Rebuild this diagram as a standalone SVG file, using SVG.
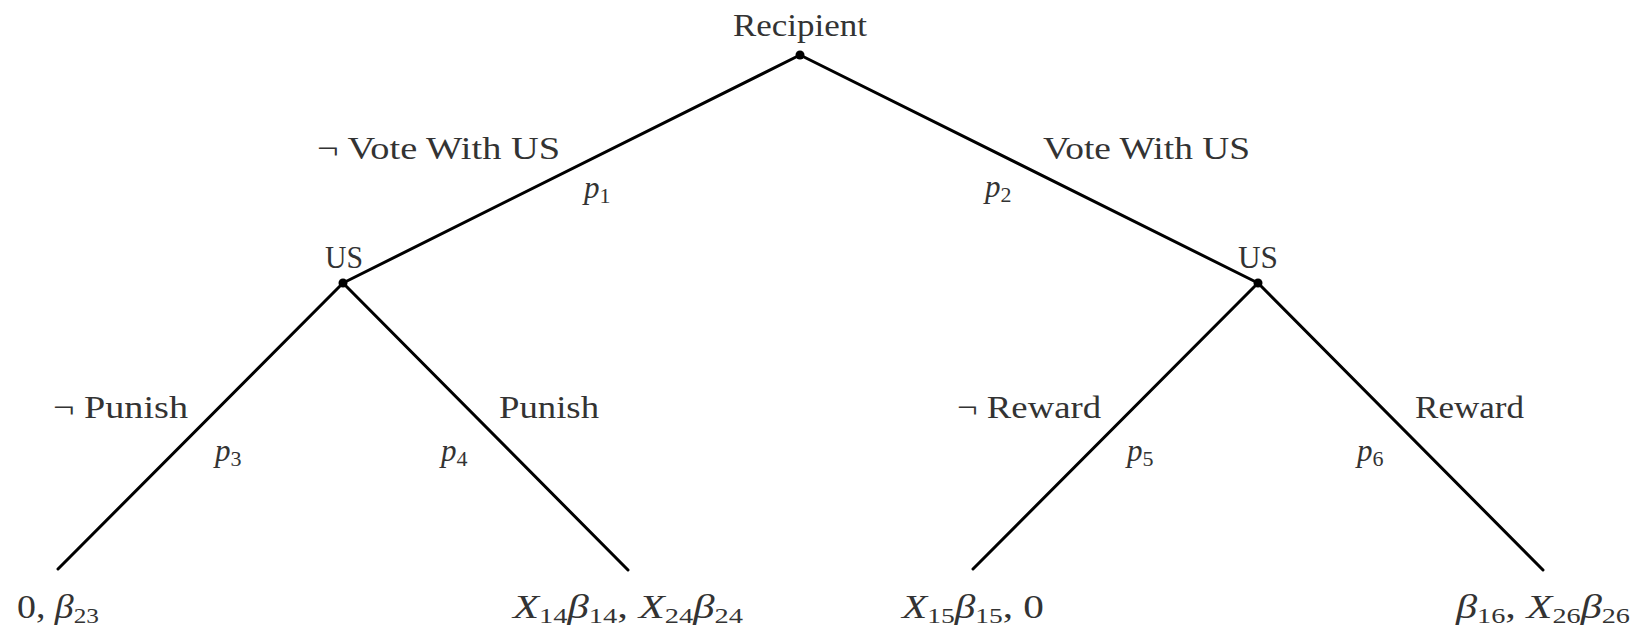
<svg xmlns="http://www.w3.org/2000/svg" width="1644" height="631" viewBox="0 0 1644 631">
<style>
.t{font-family:"Liberation Serif","Times New Roman",serif;font-size:31px;fill:#333}
.l{font-size:33px}
.m{font-style:italic}
.s{font-size:22px;font-style:normal}
.e{stroke:#000;stroke-width:3;fill:none;stroke-linecap:round}
.d{fill:#000}
</style>
<rect width="1644" height="631" fill="#fff"/>
<g id="connectors">
<line class="e" x1="800" y1="55" x2="343" y2="283"/>
<line class="e" x1="800" y1="55" x2="1258" y2="283"/>
<line class="e" x1="343" y1="283" x2="58" y2="569"/>
<line class="e" x1="343" y1="283" x2="628" y2="570"/>
<line class="e" x1="1258" y1="283" x2="973" y2="569"/>
<line class="e" x1="1258" y1="283" x2="1543" y2="570"/>
</g>
<g id="edge-labels">
<text class="t" x="317" y="159" textLength="243" lengthAdjust="spacingAndGlyphs">¬ Vote With US</text>
<text class="t" x="584" y="198"><tspan class="m">p</tspan><tspan class="s" dy="5">1</tspan></text>
<text class="t" x="985" y="197"><tspan class="m">p</tspan><tspan class="s" dy="5">2</tspan></text>
<text class="t" x="1043" y="159" textLength="207" lengthAdjust="spacingAndGlyphs">Vote With US</text>
<text class="t" x="53" y="418" textLength="135" lengthAdjust="spacingAndGlyphs">¬ Punish</text>
<text class="t" x="215" y="461"><tspan class="m">p</tspan><tspan class="s" dy="5">3</tspan></text>
<text class="t" x="499" y="418" textLength="100" lengthAdjust="spacingAndGlyphs">Punish</text>
<text class="t" x="441" y="461"><tspan class="m">p</tspan><tspan class="s" dy="5">4</tspan></text>
<text class="t" x="957" y="418" textLength="144" lengthAdjust="spacingAndGlyphs">¬ Reward</text>
<text class="t" x="1127" y="461"><tspan class="m">p</tspan><tspan class="s" dy="5">5</tspan></text>
<text class="t" x="1415" y="418" textLength="109" lengthAdjust="spacingAndGlyphs">Reward</text>
<text class="t" x="1357" y="461"><tspan class="m">p</tspan><tspan class="s" dy="5">6</tspan></text>
</g>
<g id="node-recipient">
<circle class="d" cx="800" cy="55" r="4.5"/>
<text class="t" x="800" y="36" text-anchor="middle" textLength="134" lengthAdjust="spacingAndGlyphs">Recipient</text>
</g>
<g id="node-us-left">
<circle class="d" cx="343" cy="283" r="4.5"/>
<text class="t" x="344" y="268" text-anchor="middle" textLength="38" lengthAdjust="spacingAndGlyphs">US</text>
</g>
<g id="node-us-right">
<circle class="d" cx="1258" cy="283" r="4.5"/>
<text class="t" x="1258" y="268" text-anchor="middle" textLength="40" lengthAdjust="spacingAndGlyphs">US</text>
</g>
<g id="leaf-1">
<text class="t l" x="17" y="618" textLength="82" lengthAdjust="spacingAndGlyphs">0, <tspan class="m">β</tspan><tspan class="s" dy="5">23</tspan></text>
</g>
<g id="leaf-2">
<text class="t l" x="513" y="618" textLength="230" lengthAdjust="spacingAndGlyphs"><tspan class="m">X</tspan><tspan class="s" dy="5">14</tspan><tspan class="m" dy="-5">β</tspan><tspan class="s" dy="5">14</tspan><tspan dy="-5">, </tspan><tspan class="m">X</tspan><tspan class="s" dy="5">24</tspan><tspan class="m" dy="-5">β</tspan><tspan class="s" dy="5">24</tspan></text>
</g>
<g id="leaf-3">
<text class="t l" x="902" y="618" textLength="142" lengthAdjust="spacingAndGlyphs"><tspan class="m">X</tspan><tspan class="s" dy="5">15</tspan><tspan class="m" dy="-5">β</tspan><tspan class="s" dy="5">15</tspan><tspan dy="-5">, 0</tspan></text>
</g>
<g id="leaf-4">
<text class="t l" x="1456" y="618" textLength="174" lengthAdjust="spacingAndGlyphs"><tspan class="m">β</tspan><tspan class="s" dy="5">16</tspan><tspan dy="-5">, </tspan><tspan class="m">X</tspan><tspan class="s" dy="5">26</tspan><tspan class="m" dy="-5">β</tspan><tspan class="s" dy="5">26</tspan></text>
</g>
</svg>
